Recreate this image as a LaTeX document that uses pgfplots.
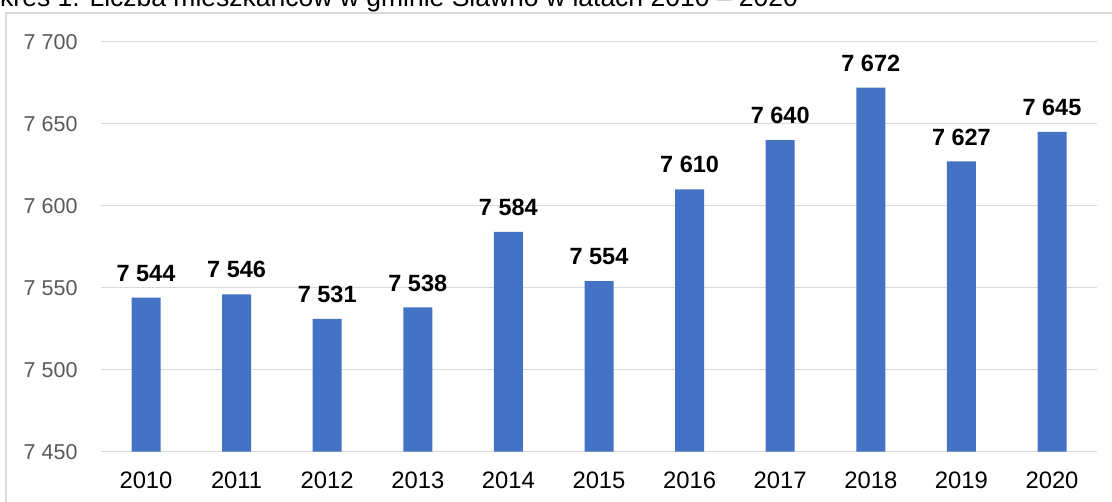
\documentclass[border=0pt]{standalone}
\usepackage{pgfplots}
\pgfplotsset{compat=1.18}
\usepackage{fontspec}
\setmainfont{Liberation Sans}
\definecolor{barblue}{HTML}{4472C4}
\definecolor{gridgray}{HTML}{D9D9D9}
\definecolor{ticktext}{HTML}{595959}
\begin{document}
\begin{tikzpicture}[x=1pt,y=1pt]
\clip (0,0) rectangle (1112,502);
\fill[white] (0,0) rectangle (1112,502);
\draw[gridgray, line width=1.3pt] (6,-10) -- (6,489) -- (1125,489);
\node[anchor=base west, inner sep=0pt, font=\fontsize{26.5}{30}\selectfont] at (0,495) {\llap{Wy}kres 1. Liczba mieszkańców w gminie Sławno w latach 2010 – 2020};
\begin{axis}[
  at={(100.7pt,50.3pt)}, anchor=south west,
  scale only axis, width=996.6pt, height=410pt,
  xmin=-0.5, xmax=10.5, ymin=7450, ymax=7700,
  ytick={7450,7500,7550,7600,7650,7700},
  xtick={0,1,2,3,4,5,6,7,8,9,10},
  xticklabels={2010,2011,2012,2013,2014,2015,2016,2017,2018,2019,2020},
  scaled y ticks=false,
  axis line style={draw=none},
  major tick length=0pt,
  ymajorgrids, grid style={gridgray, line width=1.3pt},
  /pgf/number format/.cd, 1000 sep={\ }, assume math mode=true, /pgfplots/.cd,
  yticklabel style={font=\fontsize{21.5}{26}\selectfont, color=ticktext, anchor=east, inner sep=0pt, xshift=-23pt},
  xticklabel style={font=\fontsize{23.8}{28}\selectfont, color=black, anchor=base, inner sep=0pt, yshift=-37.3pt},
  ybar, bar width=29pt,
  nodes near coords,
  every node near coord/.append style={font=\bfseries\fontsize{23.5}{28}\selectfont, color=black, anchor=base, inner sep=0pt, yshift=16.3pt},
]
\addplot[fill=barblue, draw=none] coordinates {
(0,7544) (1,7546) (2,7531) (3,7538) (4,7584) (5,7554) (6,7610) (7,7640) (8,7672) (9,7627) (10,7645)
};
\end{axis}
\end{tikzpicture}
\end{document}
